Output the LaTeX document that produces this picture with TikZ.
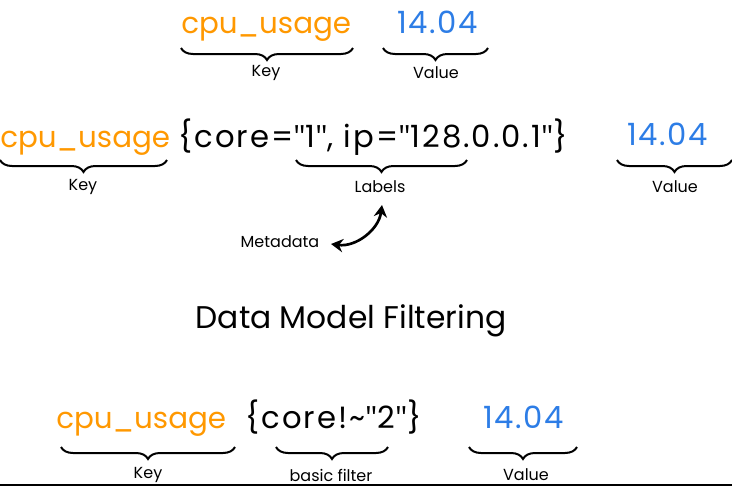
\documentclass[tikz,border=0pt]{standalone}
\usepackage{fontspec}
\setmainfont{Poppins}
\newfontfamily\qfont{Open Sans}
\newcommand{\dq}{{\qfont"}}
\usetikzlibrary{decorations.pathreplacing,arrows.meta}
\definecolor{keyorange}{RGB}{255,152,0}
\definecolor{valblue}{RGB}{45,125,230}
\begin{document}
\begin{tikzpicture}[x=0.75pt,y=-0.75pt,
  big/.style={font=\fontsize{23}{27}\selectfont\addfontfeature{LetterSpace=6.5}, inner sep=0pt, anchor=base west},
  keytext/.style={font=\fontsize{22}{26}\selectfont, inner sep=0pt, anchor=base west, text=keyorange},
  valtext/.style={font=\fontsize{23}{27}\selectfont\addfontfeature{LetterSpace=5}, inner sep=0pt, anchor=base west, text=valblue},
  small/.style={font=\fontsize{12}{14}\selectfont, inner sep=0pt},
  titletext/.style={font=\fontsize{23.5}{28}\selectfont, inner sep=0pt, anchor=base},
  bracestyle/.style={decorate, decoration={brace, mirror, amplitude=9pt}, line width=1.5pt},
]
\useasboundingbox (0,0) rectangle (732,486);
% Row 1
\node[keytext] (k1) at (181,33) {cpu\_usage};
\node[valtext] (v1) at (397,33) {14.04};
\coordinate (k1a) at (181,48); \coordinate (k1b) at (353,48);
\coordinate (v1a) at (383,48); \coordinate (v1b) at (488,48);
\draw[bracestyle] (k1a) -- (k1b);
\draw[bracestyle] (v1a) -- (v1b);
\node[small] (lk1) at (266,73) {Key};
\node[small] (lv1) at (436,73) {Value};
% Row 2
\node[keytext] (k2) at (0,147) {cpu\_usage};
\node[big] (l2) at (178,147) {\{core=\dq1\dq, ip=\dq128.0.0.1\dq\}};
\node[valtext] (v2) at (627,145) {14.04};
\coordinate (k2a) at (0,160); \coordinate (k2b) at (167,160);
\coordinate (l2a) at (296,160); \coordinate (l2b) at (467,160);
\coordinate (v2a) at (617,160); \coordinate (v2b) at (732,160);
\draw[bracestyle] (k2a) -- (k2b);
\draw[bracestyle] (l2a) -- (l2b);
\draw[bracestyle] (v2a) -- (v2b);
\node[small] (lk2) at (83,187) {Key};
\node[small] (ll2) at (380,187) {Labels};
\node[small] (lv2) at (675,187) {Value};
% Metadata
\node[small] (meta) at (280,242) {Metadata};
\coordinate (mA) at (331,244);
\coordinate (mB) at (382,205);
\draw[{Stealth[length=9pt,width=10pt]}-{Stealth[length=9pt,width=10pt]}, line width=2pt] (mA) to[bend right=45] (mB);
% Title
\node[titletext] (title) at (351,328) {Data Model Filtering};
% Row 3
\node[keytext] (k3) at (56,428) {cpu\_usage};
\node[big] (f3) at (245,428) {\{core!\textasciitilde\dq2\dq\}};
\node[valtext] (v3) at (483,428) {14.04};
\coordinate (k3a) at (61,447); \coordinate (k3b) at (235,447);
\coordinate (f3a) at (276,447); \coordinate (f3b) at (388,447);
\coordinate (v3a) at (469,447); \coordinate (v3b) at (577,447);
\draw[bracestyle] (k3a) -- (k3b);
\draw[bracestyle] (f3a) -- (f3b);
\draw[bracestyle] (v3a) -- (v3b);
\node[small] (lk3) at (148,475) {Key};
\node[small] (lf3) at (331,475) {basic filter};
\node[small] (lv3) at (526,475) {Value};
% bottom rule
\coordinate (ruleA) at (0,485); \coordinate (ruleB) at (732,485);
\draw[line width=1.5pt] (ruleA) -- (ruleB);
\end{tikzpicture}
\end{document}
